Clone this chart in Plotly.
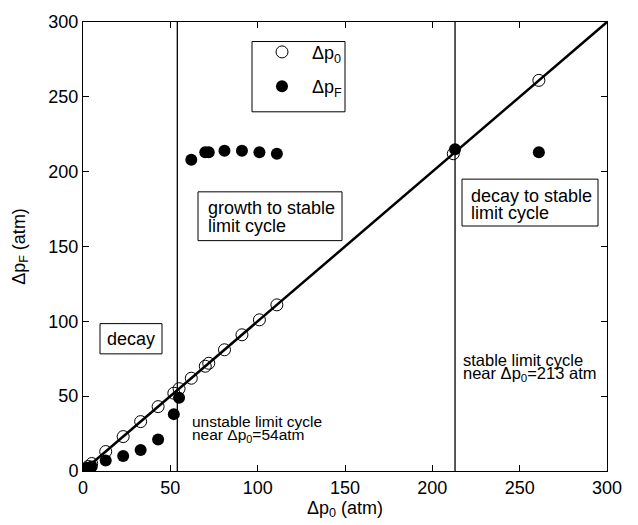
import plotly.graph_objects as go

# ---- data ----
p0_x = [3, 5, 13, 23, 33, 43, 52, 55, 62, 70, 72, 81, 91, 101, 111, 212, 261]
p0_y = [3, 5, 13, 23, 33, 43, 52, 55, 62, 70, 72, 81, 91, 101, 111, 212, 261]

pF_x = [2, 5, 13, 23, 33, 43, 52, 55, 62, 70, 72, 81, 91, 101, 111, 213, 261]
pF_y = [2, 3, 7, 10, 14, 21, 38, 49, 208, 213, 213, 214, 214, 213, 212, 215, 213]

diag = [0, 300]
limit_cycles = [54, 213]

x_ticks = [0, 50, 100, 150, 200, 250, 300]
y_ticks = [0, 50, 100, 150, 200, 250, 300]

# ---- layout geometry (pixels) ----
W, H = 638, 525
L, R, T, B = 83, 31, 14, 51
PW, PH = W - L - R, H - T - B
FONT = "Liberation Sans, Arial, Helvetica, sans-serif"


def px2x(px):
    return (px - L) / PW * 300


def py2y(py):
    return (T + PH - py) / PH * 300


fig = go.Figure()

for v in limit_cycles:
    fig.add_trace(go.Scatter(x=[v, v], y=[y_ticks[0], y_ticks[-1]], mode="lines",
                             line=dict(color="black", width=1.3),
                             showlegend=False, hoverinfo="skip"))

fig.add_trace(go.Scatter(x=p0_x, y=p0_y, mode="markers", name="Δp<sub>0</sub>",
                         legendgroup="a",
                         marker=dict(symbol="circle-open", size=12, color="black",
                                     line=dict(width=1))))
fig.add_trace(go.Scatter(x=pF_x, y=pF_y, mode="markers", name="Δp<sub>F</sub>",
                         legendgroup="b",
                         marker=dict(symbol="circle", size=12, color="black")))

fig.add_trace(go.Scatter(x=diag, y=diag, mode="lines",
                         line=dict(color="black", width=2.5),
                         showlegend=False, hoverinfo="skip"))

shapes = []
annotations = []


def box(x0, y0, x1, y1, ref="data"):
    if ref == "data":
        shapes.append(dict(type="rect", xref="x", yref="y",
                           x0=px2x(x0), x1=px2x(x1), y0=py2y(y0), y1=py2y(y1),
                           line=dict(color="black", width=1), fillcolor="white",
                           layer="below"))


def text(t, px, py, size, anchor="left"):
    annotations.append(dict(text=t, x=px2x(px), y=py2y(py), xref="x", yref="y",
                            xanchor=anchor, yanchor="middle", showarrow=False,
                            font=dict(family=FONT, size=size, color="black")))


# legend frame
box(252, 34, 345, 106)

box(100, 323, 162, 354)
text("decay", 131, 338.5, 18, "center")

box(198, 188, 342, 238)
text("growth to stable", 206, 205, 18)
text("limit cycle", 206, 223, 18)

box(462, 175, 598, 223)
text("decay to stable", 469, 192, 18)
text("limit cycle", 469, 210, 18)

text("stable limit cycle", 461, 360, 16.5)
text("near Δp<sub>0</sub>=213 atm", 461, 375, 16.5)

text("unstable limit cycle", 190, 423, 15.5)
text("near Δp<sub>0</sub>=54atm", 190, 437.5, 15.5)

axis_common = dict(range=[0, 300], showgrid=False, zeroline=False,
                   showline=True, linecolor="black", linewidth=1, mirror="ticks",
                   ticks="inside", ticklen=6, tickwidth=1, tickcolor="black",
                   tickfont=dict(family=FONT, size=18, color="black"))

fig.update_layout(
    width=W, height=H,
    margin=dict(l=L, r=R, t=T, b=B),
    paper_bgcolor="white", plot_bgcolor="white",
    font=dict(family=FONT, size=18, color="black"),
    xaxis=dict(**axis_common, tickvals=x_ticks, ticktext=[str(v) for v in x_ticks],
               title=dict(text="Δp<sub>0</sub> (atm)", standoff=3,
                          font=dict(family=FONT, size=18))),
    yaxis=dict(**axis_common, tickvals=y_ticks, ticktext=[str(v) for v in y_ticks],
               title=dict(text="Δp<sub>F</sub> (atm)", standoff=18,
                          font=dict(family=FONT, size=18))),
    legend=dict(x=px2x(252) / 300, y=1 - (26 - T) / PH, xanchor="left", yanchor="top",
                borderwidth=0, bgcolor="rgba(0,0,0,0)",
                traceorder="grouped", tracegroupgap=8, itemwidth=50,
                font=dict(family=FONT, size=18, color="black")),
    shapes=shapes,
    annotations=annotations,
    showlegend=True,
)

fig.write_html("out.html")
